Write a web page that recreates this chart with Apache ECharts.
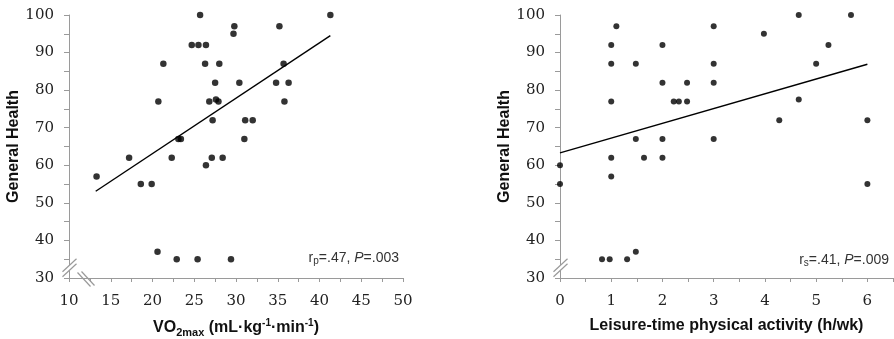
<!DOCTYPE html>
<html>
<head>
<meta charset="utf-8">
<script src="https://cdn.jsdelivr.net/npm/echarts@6/dist/echarts.min.js"></script>
<style>html,body{margin:0;padding:0;background:#fff}#c{width:894px;height:339px}</style>
</head>
<body>
<div id="c"></div>
<script>
// Left panel: VO2max vs General Health
var vo2Points = [
  [13.3,57],[17.2,62],[18.6,55],[19.9,55],[20.6,37],[20.7,77],[21.3,87],[22.3,62],[22.9,35],
  [23.1,67],[23.4,67],[24.7,92],[25.4,35],[25.5,92],[25.7,100],[26.3,87],[26.4,92],[26.4,60],
  [26.8,77],[27.1,62],[27.2,72],[27.5,82],[27.6,77.5],[27.9,77],[28.0,87],[28.4,62],[29.4,35],
  [29.7,95],[29.8,97],[30.4,82],[31.0,67],[31.1,72],[32.0,72],[34.8,82],[35.2,97],[35.7,87],
  [35.8,77],[36.3,82],[41.3,100]
];
var vo2Trend = [[13.2,53.1],[41.3,94.5]];
// Right panel: leisure-time physical activity vs General Health
var ltpaPoints = [
  [0,60],[0,55],[0.82,35],[0.97,35],[1,92],[1,87],[1,77],[1,62],[1,57],[1.1,97],[1.31,35],
  [1.48,87],[1.48,67],[1.48,37],[1.64,62],[2,92],[2,82],[2,67],[2,62],[2.22,77],[2.32,77],
  [2.48,82],[2.48,77],[3,97],[3,87],[3,82],[3,67],[3.98,95],[4.28,72],[4.66,100],[4.66,77.5],
  [5,87],[5.24,92],[5.68,100],[6,72],[6,55]
];
var ltpaTrend = [[0,63.3],[6,86.9]];
var yTicks = [30,40,50,60,70,80,90,100];
var leftXTicks = [10,15,20,25,30,35,40,45,50];
var rightXTicks = [0,1,2,3,4,5,6];
var yName = 'General Health';
var rightXName = 'Leisure-time physical activity (h/wk)';
var leftStat = ['.47', '.003'];
var rightStat = ['.41', '.009'];

var chart = echarts.init(document.getElementById('c'), null, {renderer: 'canvas'});
var axisGray = '#9a9a9a';
var labelFont = {fontFamily: 'DejaVu Serif', fontSize: 15, color: '#222'};
var nameFont = {fontFamily: 'Liberation Sans', fontSize: 16, fontWeight: 'bold', color: '#111'};

function yAxis(gridIndex, gap) {
  return {
    type: 'value', gridIndex: gridIndex, min: 30, max: 100, interval: 5,
    name: yName, nameLocation: 'middle', nameGap: gap, nameTextStyle: nameFont,
    axisLine: {show: true, lineStyle: {color: axisGray, width: 1}},
    axisTick: {show: true, length: 5, lineStyle: {color: axisGray}},
    splitLine: {show: false},
    axisLabel: Object.assign({margin: 15, formatter: function (v) { return yTicks.indexOf(v) >= 0 ? String(v) : ''; }}, labelFont)
  };
}
function xAxis(gridIndex, min, max, interval, ticks, name) {
  return {
    type: 'value', gridIndex: gridIndex, min: min, max: max, interval: interval,
    name: name, nameLocation: 'middle', nameGap: 40, nameTextStyle: Object.assign({}, nameFont, {
      rich: {
        b: {fontFamily: 'Liberation Sans', fontSize: 16, fontWeight: 'bold', color: '#111', lineHeight: 20},
        sub: {fontFamily: 'Liberation Sans', fontSize: 11, fontWeight: 'bold', color: '#111', lineHeight: 20, verticalAlign: 'bottom', padding: [6,0,0,0]},
        sup: {fontFamily: 'Liberation Sans', fontSize: 10, fontWeight: 'bold', color: '#111', lineHeight: 20, verticalAlign: 'top', padding: [0,0,6,0]}
      }
    }),
    axisLine: {show: true, onZero: false, lineStyle: {color: axisGray, width: 1}},
    axisTick: {show: true, length: 4, lineStyle: {color: axisGray}},
    splitLine: {show: false},
    axisLabel: Object.assign({margin: 16, showMaxLabel: true, formatter: function (v) {
      for (var i = 0; i < ticks.length; i++) { if (Math.abs(ticks[i] - v) < 1e-9) return String(ticks[i]); }
      return '';
    }}, labelFont)
  };
}

var option = {
  animation: false,
  backgroundColor: '#fff',
  grid: [
    {left: 69, top: 15, width: 334, height: 263, outerBoundsMode: 'none', containLabel: false},
    {left: 560, top: 15, width: 333, height: 263, outerBoundsMode: 'none', containLabel: false}
  ],
  xAxis: [
    xAxis(0, 10, 50, 2.5, leftXTicks, '{b|VO}{sub|2max}{b| (mL·kg}{sup|-1}{b|·min}{sup|-1}{b|)}'),
    xAxis(1, 0, 6.5, 0.5, rightXTicks, rightXName)
  ],
  yAxis: [yAxis(0, 42), yAxis(1, 41)],
  series: [
    {type: 'scatter', xAxisIndex: 0, yAxisIndex: 0, data: vo2Points, symbolSize: 6.5, itemStyle: {color: '#000'}, z: 3},
    {type: 'line', xAxisIndex: 0, yAxisIndex: 0, data: vo2Trend, symbol: 'none', lineStyle: {color: '#000', width: 1.4}, z: 2},
    {type: 'scatter', xAxisIndex: 1, yAxisIndex: 1, data: ltpaPoints, symbolSize: 6, itemStyle: {color: '#000'}, z: 3},
    {type: 'line', xAxisIndex: 1, yAxisIndex: 1, data: ltpaTrend, symbol: 'none', lineStyle: {color: '#000', width: 1.4}, z: 2}
  ]
};
chart.setOption(option);

function statText(sub, r, p) {
  return '{t|r}{s|' + sub + '}{t|=' + r + ', }{i|P}{t|=' + p + '}';
}
var statRich = {
  t: {fontFamily: 'Liberation Sans', fontSize: 14, fill: '#333'},
  s: {fontFamily: 'Liberation Sans', fontSize: 10, fill: '#333', padding: [7,0,0,0]},
  i: {fontFamily: 'Liberation Sans', fontSize: 14, fontStyle: 'italic', fill: '#333'}
};

function breakMarks(gridIndex, xv, yv, withX) {
  var p = chart.convertToPixel({gridIndex: gridIndex}, [xv, yv]);
  var x0 = Math.round(chart.convertToPixel({gridIndex: gridIndex}, [xv, 30])[0]) + 0.5;
  var yc = p[1];
  var els = [
    {type: 'polygon', shape: {points: [[x0 - 7, yc + 5], [x0 + 7, yc - 8], [x0 + 7, yc - 3], [x0 - 7, yc + 10]]}, style: {fill: '#fff'}, z: 10},
    {type: 'line', shape: {x1: x0 - 7, y1: yc + 5, x2: x0 + 7, y2: yc - 8}, style: {stroke: axisGray, lineWidth: 1.2}, z: 11},
    {type: 'line', shape: {x1: x0 - 7, y1: yc + 10, x2: x0 + 7, y2: yc - 3}, style: {stroke: axisGray, lineWidth: 1.2}, z: 11}
  ];
  if (withX) {
    var ya = Math.round(chart.convertToPixel({gridIndex: gridIndex}, [xv, 30])[1]) + 0.5;
    var xb = x0 + 15;
    els.push({type: 'line', shape: {x1: xb - 7, y1: ya - 6, x2: xb + 6, y2: ya + 8}, style: {stroke: axisGray, lineWidth: 1.2}, z: 11});
    els.push({type: 'line', shape: {x1: xb - 3, y1: ya - 7, x2: xb + 10, y2: ya + 7}, style: {stroke: axisGray, lineWidth: 1.2}, z: 11});
  }
  return els;
}

var gfx = [];
gfx = gfx.concat(breakMarks(0, 10, 33, true));
gfx = gfx.concat(breakMarks(1, 0, 33, false));
gfx.push({type: 'text', right: 894 - 399, top: 251, style: {text: statText('p', leftStat[0], leftStat[1]), rich: statRich}, z: 12});
gfx.push({type: 'text', right: 894 - 889, top: 253, style: {text: statText('s', rightStat[0], rightStat[1]), rich: statRich}, z: 12});
chart.setOption({graphic: gfx});
</script>
</body>
</html>
